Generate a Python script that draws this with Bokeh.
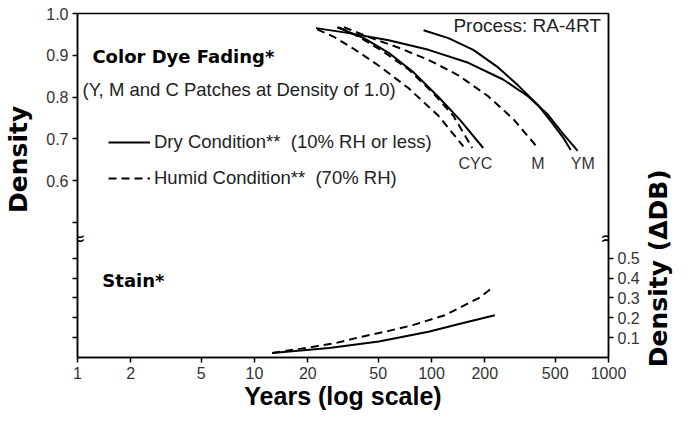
import math
from bokeh.plotting import figure
from bokeh.layouts import row
from bokeh.models import (Range1d, LinearAxis, FixedTicker, CustomJSTickFormatter,
                          Label, Legend, LegendItem)
from bokeh.embed import file_html
from bokeh.resources import INLINE

# ---------------- data ----------------
year_ticks = [1, 2, 5, 10, 20, 50, 100, 200, 500, 1000]
density_ticks = [0.5, 0.6, 0.7, 0.8, 0.9, 1.0]
stain_ticks = [0.1, 0.2, 0.3, 0.4, 0.5]

# Color dye fading: density vs years
c_humid_years = [22.6, 28.1, 36.5, 50.4, 74.3, 109.5, 151.3]
c_humid_density = [0.962, 0.944, 0.915, 0.875, 0.821, 0.755, 0.682]
y_humid_years = [30.0, 38.9, 53.8, 74.3, 102.6, 132.9, 169.9]
y_humid_density = [0.967, 0.944, 0.908, 0.866, 0.809, 0.755, 0.678]
c_dry_years = [29.3, 41.5, 57.3, 79.2, 109.5, 145.6, 196.0]
c_dry_density = [0.967, 0.941, 0.906, 0.859, 0.800, 0.744, 0.678]
m_humid_years = [32.0, 46.0, 65.3, 96.2, 141.8, 209.1, 288.9, 399.1]
m_humid_density = [0.967, 0.941, 0.918, 0.889, 0.852, 0.802, 0.748, 0.678]
m_dry_years = [22.3, 34.2, 57.3, 96.2, 161.4, 253.8, 350.7, 454.3, 551.5, 669.6]
m_dry_density = [0.965, 0.953, 0.936, 0.913, 0.882, 0.842, 0.802, 0.758, 0.713, 0.671]
y_dry_years = [90.2, 124.6, 172.2, 237.9, 308.2, 399.1, 484.6, 558.7, 611.6]
y_dry_density = [0.960, 0.941, 0.913, 0.871, 0.828, 0.781, 0.736, 0.701, 0.673]

# Stain: delta density (blue) vs years
stain_dry_years = [12.6, 26.4, 50.4, 96.2, 147.0, 228.0]
stain_dry = [0.023, 0.048, 0.081, 0.130, 0.171, 0.213]
stain_humid_years = [12.6, 19.5, 28.8, 40.5, 57.3, 78.2, 119.0, 188.0, 217.0]
stain_humid = [0.023, 0.048, 0.073, 0.105, 0.134, 0.163, 0.213, 0.303, 0.347]

# curve-end labels
end_labels = ["CYC", "M", "YM"]
end_label_years = [177, 399, 715]

# ---------------- layout constants ----------------
DENS_LO = 0.1765      # density value at the bottom of the frame (broken axis)
STAIN_HI = 1.733      # stain value at the top of the frame
BREAK_DENS = 0.4635   # where the axis break marks sit
END_LABEL_DENS = 0.642

TXT = "Liberation Sans"
BOLD = "DejaVu Sans"
NBSP = "\u00a0"
B_TOP, B_BOTTOM = 13, 56

p = figure(width=642, height=413, x_axis_type="log",
           x_range=Range1d(1, 1000), y_range=Range1d(DENS_LO, 1.0),
           output_backend="svg", toolbar_location=None,
           min_border_left=77, min_border_right=31,
           min_border_top=B_TOP, min_border_bottom=B_BOTTOM)
p.extra_y_ranges = {"stain": Range1d(0, STAIN_HI)}
p.grid.visible = False
p.outline_line_color = "black"
p.outline_line_width = 1.5
p.background_fill_color = "white"
p.border_fill_color = "white"

# ---------------- axes ----------------
left_ticks = density_ticks + [DENS_LO + s * (1.0 - DENS_LO) / STAIN_HI for s in stain_ticks]
yax = p.yaxis[0]
yax.ticker = FixedTicker(ticks=left_ticks, minor_ticks=[])
yax.formatter = CustomJSTickFormatter(code="return tick > 0.55 ? tick.toFixed(1) : '';")
yax.axis_label = NBSP * 6 + "Density"

xax = p.xaxis[0]
xax.ticker = FixedTicker(ticks=year_ticks, minor_ticks=[])
xax.formatter = CustomJSTickFormatter(code="return tick.toFixed(0);")
xax.axis_label = "Years (log scale)"

rax = LinearAxis(y_range_name="stain",
                 ticker=FixedTicker(ticks=stain_ticks, minor_ticks=[]),
                 formatter=CustomJSTickFormatter(code="return tick.toFixed(1);"))
p.add_layout(rax, "right")

for ax in (xax, yax, rax):
    ax.axis_line_color = "black"
    ax.axis_line_width = 1.5
    ax.major_tick_line_color = "black"
    ax.major_tick_line_width = 1.5
    ax.major_tick_out = 5
    ax.major_tick_in = 0
    ax.minor_tick_out = 0
    ax.minor_tick_in = 0
    ax.major_label_text_font = TXT
    ax.major_label_text_font_size = "16px"
    ax.major_label_text_color = "#333333"
    ax.major_label_standoff = 4
    ax.axis_label_text_font_style = "bold"
    ax.axis_label_text_color = "black"

xax.axis_label_text_font = "Liberation Sans"
xax.axis_label_text_font_size = "25px"
xax.axis_label_standoff = 0
yax.axis_label_text_font = BOLD
yax.axis_label_text_font_size = "25px"
yax.axis_label_standoff = 10

# ---------------- curves ----------------
LW = 2
DASH = "8 5"
r_c_dry = p.line(c_dry_years, c_dry_density, line_color="black", line_width=LW)
p.line(m_dry_years, m_dry_density, line_color="black", line_width=LW)
p.line(y_dry_years, y_dry_density, line_color="black", line_width=LW)
r_c_humid = p.line(c_humid_years, c_humid_density, line_color="black", line_width=LW, line_dash=DASH)
p.line(y_humid_years, y_humid_density, line_color="black", line_width=LW, line_dash=DASH)
p.line(m_humid_years, m_humid_density, line_color="black", line_width=LW, line_dash=DASH)

p.line(stain_dry_years, stain_dry, y_range_name="stain", line_color="black", line_width=LW)
p.line(stain_humid_years, stain_humid, y_range_name="stain", line_color="black",
       line_width=LW, line_dash=DASH)

# ---------------- legend ----------------
legend = Legend(items=[
    LegendItem(label="Dry Condition**" + NBSP * 2 + "(10% RH or less)", renderers=[r_c_dry]),
    LegendItem(label="Humid Condition**" + NBSP * 2 + "(70% RH)", renderers=[r_c_humid]),
], location=(31, 168), glyph_width=42, glyph_height=20, label_height=20,
    spacing=14, padding=0, margin=0, label_standoff=4,
    border_line_color=None, background_fill_alpha=0,
    label_text_font=TXT, label_text_font_size="18.5px", label_text_color="#222222")
p.add_layout(legend)

# ---------------- texts ----------------
def add_label(text, x, y, font=TXT, size="18.5px", style="normal", align="left",
              color="#222222", range_name="default"):
    p.add_layout(Label(x=x, y=y, text=text, text_font=font, text_font_size=size,
                       text_font_style=style, text_align=align, text_baseline="middle",
                       text_color=color, y_range_name=range_name))

add_label("Color Dye Fading*", 1.214, 0.8965, font=BOLD, size="18px", style="bold", color="black")
add_label("(Y, M and C Patches at Density of 1.0)", 1.067, 0.8188)
add_label("Process: RA-4RT", 133, 0.972, size="19px")
add_label("Stain*", 1.382, 0.386, font=BOLD, size="18px", style="bold", color="black",
          range_name="stain")
for t, xv in zip(end_labels, end_label_years):
    add_label(t, xv, END_LABEL_DENS, size="16px", align="center", color="#333333")

# axis break marks
for xv in (1, 1000):
    add_label("\u2248", xv, BREAK_DENS, font=BOLD, size="20px", align="center", color="black")

# ---------------- right-hand axis title (reads bottom-to-top) ----------------
side = figure(width=30, height=413, x_range=Range1d(0, 1), y_range=Range1d(0, 1),
              output_backend="svg", toolbar_location=None,
              min_border_left=29, min_border_right=0,
              min_border_top=B_TOP, min_border_bottom=B_BOTTOM)
side.xaxis.visible = False
side.grid.visible = False
side.outline_line_color = None
side.background_fill_color = "white"
side.border_fill_color = "white"
sax = side.yaxis[0]
sax.ticker = FixedTicker(ticks=[], minor_ticks=[])
sax.axis_line_color = None
sax.major_tick_line_color = None
sax.minor_tick_line_color = None
sax.major_label_text_font_size = "0px"
sax.axis_label = "Density (\u0394DB)" + NBSP * 19
sax.axis_label_text_font = BOLD
sax.axis_label_text_font_style = "bold"
sax.axis_label_text_font_size = "25px"
sax.axis_label_text_color = "black"
sax.axis_label_standoff = 0

layout = row(p, side)
open("out.html", "w").write(file_html(layout, INLINE))
